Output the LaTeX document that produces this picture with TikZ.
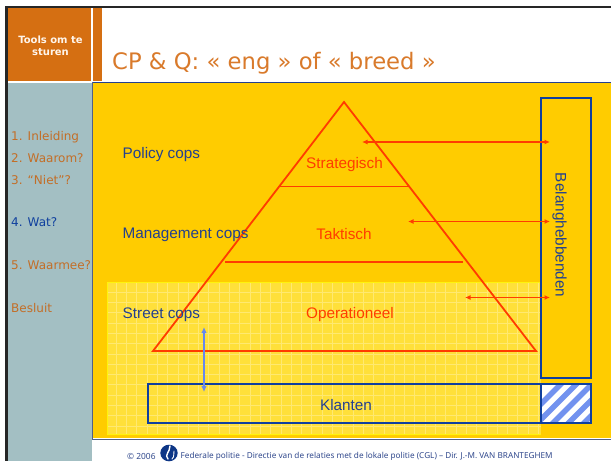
\documentclass[tikz,border=0pt]{standalone}
\usepackage{fontspec}
\setmainfont{Liberation Sans}
\newfontfamily\verd{DejaVu Sans}
\newfontfamily\foot{Noto Sans}
\usetikzlibrary{arrows.meta}
\definecolor{orangeblk}{HTML}{D56F12}
\definecolor{titlec}{HTML}{D97A2B}
\definecolor{panel}{HTML}{A3BFC3}
\definecolor{gold}{HTML}{FFCC00}
\definecolor{lemon}{HTML}{FFE03A}
\definecolor{redl}{HTML}{FF3C00}
\definecolor{navy}{HTML}{23408F}
\definecolor{boxb}{HTML}{0F3F9E}
\definecolor{arrowb}{HTML}{6688EE}
\tikzset{
  x=1pt,y=-1pt,
  menu/.style={anchor=west,inner sep=0pt,font=\verd\fontsize{12}{14}\selectfont,text=titlec!90!black},
  lab/.style={inner sep=0pt,font=\fontsize{15.3}{17}\selectfont,text=navy},
  labl/.style={lab,anchor=west},
  redlab/.style={lab,text=redl},
  edge/.style={draw=redl,line width=1.8pt,line join=miter},
  tier/.style={draw=redl,line width=1.1pt},
  link/.style={draw=redl,line width=1.2pt,{Latex[length=5.5pt,width=5pt]}-{Latex[length=5.5pt,width=5pt]}},
  bluebox/.style={draw=boxb,line width=2pt,outer sep=0pt},
}
\begin{document}
\begin{tikzpicture}
\useasboundingbox (0,0) rectangle (611,461);
\fill[white] (0,0) rectangle (611,461);
% frame
\fill[black!85] (5,6) rectangle (611,8.2);
\fill[black!85] (5,6) rectangle (8,461);
% header blocks
\fill[orangeblk] (8,8) rectangle (91,81);
\fill[orangeblk] (93,8) rectangle (102,81);
\node[inner sep=0pt,align=center,text=white!92!orange,font=\verd\bfseries\fontsize{10}{12}\selectfont] (hdr) at (50.5,46) {Tools om te\\sturen};
\node[anchor=west,inner sep=0pt,text=titlec,font=\verd\fontsize{22.7}{25}\selectfont] (title) at (112,63.5) {CP \& Q: « eng » of « breed »};
% side panel and main area
\fill[panel] (8,83) rectangle (91.5,461);
\fill[gold] (92.5,83) rectangle (611,438);
\draw[navy,line width=0.8pt] (92,82) -- (611,82);
\draw[navy!50!gray,line width=0.9pt] (92,82) -- (92,439) -- (611,439);
% lighter zone with grid
\fill[lemon] (107,282) rectangle (541,434);
\begin{scope}
\clip (107,282) rectangle (541,434);
\foreach \gx in {116,126.3,...,541} \draw[white!28!lemon,line width=0.6pt] (\gx,282) -- (\gx,434);
\foreach \gy in {292,302.3,...,434} \draw[white!28!lemon,line width=0.6pt] (107,\gy) -- (541,\gy);
\end{scope}
\draw[yellow!95!white,line width=1pt] (107,434) -- (107,282) -- (541,282);
\draw[yellow!95!white,line width=1pt] (107,434) -- (541,434);
% menu
\node[menu] (m1) at (11,137.5) {1. Inleiding};
\node[menu] (m2) at (11,158.5) {2. Waarom?};
\node[menu] (m3) at (11,180) {3. “Niet”?};
\node[menu,text=boxb] (m4) at (11,222.5) {4. Wat?};
\node[menu] (m5) at (11,265.5) {5. Waarmee?};
\node[menu] (m6) at (11,308.5) {Besluit};
% triangle
\coordinate (apex) at (344,102);
\coordinate (bl) at (153,351);
\coordinate (br) at (536,351);
\draw[edge] (apex) -- (bl) -- (br) -- cycle;
\coordinate (t1l) at (280,186.5); \coordinate (t1r) at (408,186.5);
\coordinate (t2l) at (225,262); \coordinate (t2r) at (463,262);
\draw[tier] (t1l) -- (t1r);
\draw[tier] (t2l) -- (t2r);
% labels
\node[labl] (policy) at (122.5,154.5) {Policy cops};
\node[labl] (mgmt) at (122.5,234.5) {Management cops};
\node[labl] (street) at (122.5,314.5) {Street cops};
\node[redlab] (strat) at (344.5,164.5) {Strategisch};
\node[redlab] (takt) at (344,234.5) {Taktisch};
\node[redlab] (oper) at (350,314.5) {Operationeel};
% boxes
\node[bluebox,minimum width=50pt,minimum height=280pt,inner sep=0pt,anchor=north west] (bel) at (541,97.7) {};
\node[lab,rotate=-90] (beltxt) at (559.5,235) {Belanghebbenden};
\node[minimum width=50pt,minimum height=39pt,inner sep=0pt,outer sep=0pt,anchor=north west] (hatch) at (541,384.3) {};
\begin{scope}
\clip (hatch.north west) rectangle (hatch.south east);
\fill[white] (hatch.north west) rectangle (hatch.south east);
\foreach \s in {0,15.5,...,125}
  \draw[arrowb!92!white,line width=5.4pt] (505+\s,440) -- (575+\s,370);
\end{scope}
\draw[bluebox] (hatch.north west) rectangle (hatch.south east);
\node[bluebox,minimum width=392.7pt,minimum height=39pt,inner sep=0pt,anchor=north west] (kl) at (148.3,384.3) {};
\node[lab] (kltxt) at (346,405) {Klanten};
% arrows
\coordinate (a1) at (362,142); \coordinate (b1) at (550,142);
\coordinate (a2) at (408,221.5); \coordinate (b2) at (550,221.5);
\coordinate (a3) at (465,297.5); \coordinate (b3) at (550,297.5);
\draw[link] (a1) -- (b1);
\draw[link] (a2) -- (b2);
\draw[link] (a3) -- (b3);
\coordinate (u1) at (204,327); \coordinate (u2) at (204,392);
\draw[draw=arrowb,line width=1.5pt,{Latex[length=6pt,width=5.5pt]}-{Latex[length=6pt,width=5.5pt]}] (u1) -- (u2);
% footer
\fill[boxb!85!black] (169,453) ellipse (8.7 and 8.3);
\draw[white,line width=1.4pt,line cap=round] (168,459) .. controls (164,455) and (170,452) .. (170,446);
\draw[white,line width=0.9pt,line cap=round] (172,459) .. controls (175,456) and (173,454) .. (174,451);
\node[anchor=west,inner sep=0pt,text=navy!85!gray,font=\foot\fontsize{8.4}{10}\selectfont] (cr) at (127,456) {© 2006};
\node[anchor=west,inner sep=0pt,text=navy!85!gray,font=\foot\fontsize{8.2}{10}\selectfont] (ft) at (180.5,456) {Federale politie - Directie van de relaties met de lokale politie (CGL) – Dir. J.-M. VAN BRANTEGHEM};
\end{tikzpicture}
\end{document}
